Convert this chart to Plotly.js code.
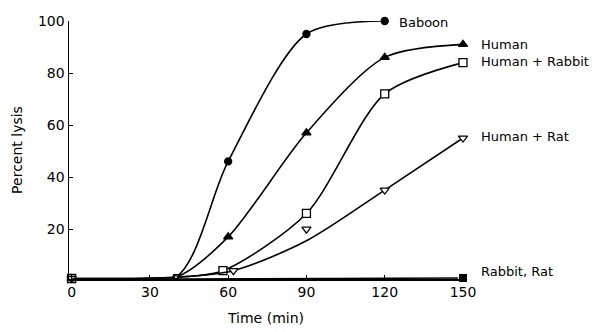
<!DOCTYPE html>
<html><head><meta charset="utf-8">
<script src="https://cdn.plot.ly/plotly-3.0.1.min.js"></script>
<style>html,body{margin:0;padding:0;background:#fff}</style>
</head><body><div id="chart" style="width:611px;height:332px"></div>
<script>
// Data
const baboonX = [0, 40, 60, 90, 120];
const baboonY = [1, 1.5, 46, 95, 100];
const humanX = [0, 40, 60, 90, 120, 150];
const humanY = [1, 1.5, 17, 57, 86, 91];
const humanRabbitX = [0, 40, 58, 90, 120, 150];
const humanRabbitY = [1, 1.5, 4, 26, 72, 84];
const humanRatX = [0, 40, 62, 90, 120, 150];
const humanRatY = [1, 1.5, 4, 20, 35, 55];
const humanRatCurveX = [0, 40, 62, 90, 120, 150];
const humanRatCurveY = [1, 1.5, 4, 15.5, 35, 55];
const rabbitRatX = [0, 40, 150];
const rabbitRatY = [0.8, 0.8, 1.2];
const seriesLabels = ["Baboon", "Human", "Human + Rabbit", "Human + Rat", "Rabbit, Rat"];
const labelX = [120, 150, 150, 150, 150];
const labelY = [100, 91, 84.5, 55.5, 3.5];
const xTicks = [0, 30, 60, 90, 120, 150];
const yTicks = [20, 40, 60, 80, 100];

const font = "DejaVu Sans, sans-serif";
const line = {color: "#000", width: 1.6, shape: "spline", smoothing: 0.8};
function t(x, y, sym, size, fill, mode, ln) {
  const sizes = x.map((v, i) => (i === 1 ? Math.round(size * 0.6) : size));
  return {x, y, type: "scatter", mode, line: ln || line, cliponaxis: false,
    marker: {symbol: sym, size: sizes, color: fill, opacity: 1, line: {color: "#000", width: 1.3}},
    showlegend: false, hoverinfo: "skip"};
}
const traces = [
  t(baboonX, baboonY, "circle", 7, "#000", "lines+markers"),
  t(humanX, humanY, "triangle-up", 8, "#000", "lines+markers"),
  t(humanRabbitX, humanRabbitY, "square", 8, "#fff", "lines+markers"),
  t(humanRatCurveX, humanRatCurveY, "circle", 0, "#000", "lines"),
  t(humanRatX, humanRatY, "triangle-down", 8, "#fff", "markers"),
  {x: rabbitRatX, y: rabbitRatY, type: "scatter", mode: "lines+markers", cliponaxis: false,
    line: {color: "#000", width: 1.6},
    marker: {symbol: "square", size: rabbitRatX.map((v, i) => (i === 2 ? 9 : 0)), color: "#000", opacity: 1},
    showlegend: false, hoverinfo: "skip"}
];
const annotations = seriesLabels.map((s, i) => ({
  x: labelX[i], y: labelY[i], xref: "x", yref: "y", text: s, showarrow: false,
  xanchor: "left", xshift: i === 0 ? 12 : 16, yshift: i === 0 ? -1 : 0,
  font: {family: font, size: 13, color: "#000"}
}));
const layout = {
  width: 611, height: 332,
  margin: {l: 69, r: 148, t: 21, b: 53},
  paper_bgcolor: "#fff", plot_bgcolor: "#fff",
  font: {family: font, size: 14, color: "#000"},
  xaxis: {range: [-1, 150], tickvals: xTicks, ticktext: xTicks.map(String),
    ticks: "inside", ticklen: 4, tickcolor: "#000", showline: true, linecolor: "#000", linewidth: 1.5,
    showgrid: false, zeroline: false, tickfont: {size: 14},
    title: {text: "Time (min)", font: {size: 14}, standoff: 14}},
  yaxis: {range: [0.8, 100], tickvals: yTicks, ticktext: yTicks.map(String),
    ticks: "inside", ticklen: 4, tickcolor: "#000", showline: true, linecolor: "#000", linewidth: 1.5,
    showgrid: false, zeroline: false, tickfont: {size: 14},
    title: {text: "Percent lysis", font: {size: 14}, standoff: 12}},
  annotations
};
Plotly.newPlot("chart", traces, layout, {staticPlot: true});
</script></body></html>
